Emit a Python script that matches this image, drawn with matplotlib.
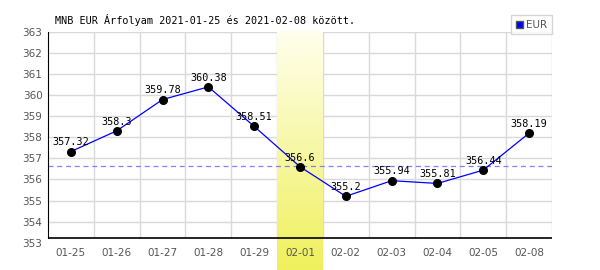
import numpy as np
import matplotlib
matplotlib.use("Agg")
import matplotlib.pyplot as plt
from matplotlib.patches import Patch

dates = ["01-25", "01-26", "01-27", "01-28", "01-29", "02-01",
         "02-02", "02-03", "02-04", "02-05", "02-08"]
values = [357.32, 358.3, 359.78, 360.38, 358.51, 356.6,
          355.2, 355.94, 355.81, 356.44, 358.19]
labels = ["357.32", "358.3", "359.78", "360.38", "358.51", "356.6",
          "355.2", "355.94", "355.81", "356.44", "358.19"]
ref_value = 356.62
highlight_idx = 5
y_ticks = list(range(353, 364))
title = "MNB EUR Árfolyam 2021-01-25 és 2021-02-08 között."
series_name = "EUR"

fig = plt.figure(figsize=(6, 2.7), dpi=100)
ax = fig.add_axes([0.08, 0.1007, 0.84, 0.7826])
x = np.arange(len(dates))
ybase = 353.24
ylow = 351.7

# grid
for t in y_ticks[1:]:
    ax.axhline(t, color="#d9d9d9", lw=1, zorder=0.5)
ax.vlines(np.arange(0.5, len(dates) + 0.5), ybase, 363, color="#d9d9d9", lw=1, zorder=0.5)

# highlight gradient
grad = np.linspace(0, 1, 256).reshape(-1, 1)
top = np.array([1.0, 1.0, 0.93])
bot = np.array([0.94, 0.94, 0.36])
img = top[None, None, :] * (1 - grad[:, :, None]) + bot[None, None, :] * grad[:, :, None]
ax.imshow(img, extent=(highlight_idx - 0.5, highlight_idx + 0.5, ylow, 363),
          aspect="auto", origin="upper", zorder=1, clip_on=False, interpolation="bilinear")

ax.axhline(ref_value, color="#8080ff", lw=0.9, ls=(0, (4, 3)), zorder=1.5)
ax.plot(x, values, color="#0000ff", lw=0.9, zorder=2)
ax.plot(x, values, "o", color="black", ms=5.5, zorder=3)
for xi, v, lab in zip(x, values, labels):
    ax.text(xi, v + 0.2, lab, ha="center", va="bottom", fontsize=7.3,
            family="DejaVu Sans Mono", color="black", zorder=4)

ax.hlines(ybase, -0.5, len(dates) - 0.5, color="black", lw=1.2, zorder=3, clip_on=False)

ax.set_xlim(-0.5, len(dates) - 0.5)
ax.set_ylim(353, 363)
ax.set_yticks(y_ticks)
ax.set_yticklabels([str(t) for t in y_ticks])
ax.set_xticks(x)
ax.set_xticklabels(dates)
ax.tick_params(axis="both", length=0, labelsize=7.5, labelcolor="#555555")
ax.tick_params(axis="x", pad=4)
ax.tick_params(axis="y", pad=4)
for s in ["top", "right", "bottom"]:
    ax.spines[s].set_visible(False)
ax.spines["left"].set_bounds(ybase, 363)
ax.spines["left"].set_color("black")
ax.set_facecolor("none")

fig.text(0.092, 0.925, title, fontsize=7.3, family="DejaVu Sans Mono", color="black", va="center")

leg = fig.legend(handles=[Patch(facecolor="#0000ff", edgecolor="#555555", label=series_name)],
                 loc="upper right", bbox_to_anchor=(0.92, 0.944), frameon=True, fancybox=False,
                 fontsize=7.5, handlelength=0.7, handleheight=0.7, handletextpad=0.3,
                 borderpad=0.45, borderaxespad=0)
leg.get_frame().set_edgecolor("#cccccc")
leg.get_frame().set_linewidth(1)
for t in leg.get_texts():
    t.set_color("#555555")

fig.savefig("out.png", dpi=100)
